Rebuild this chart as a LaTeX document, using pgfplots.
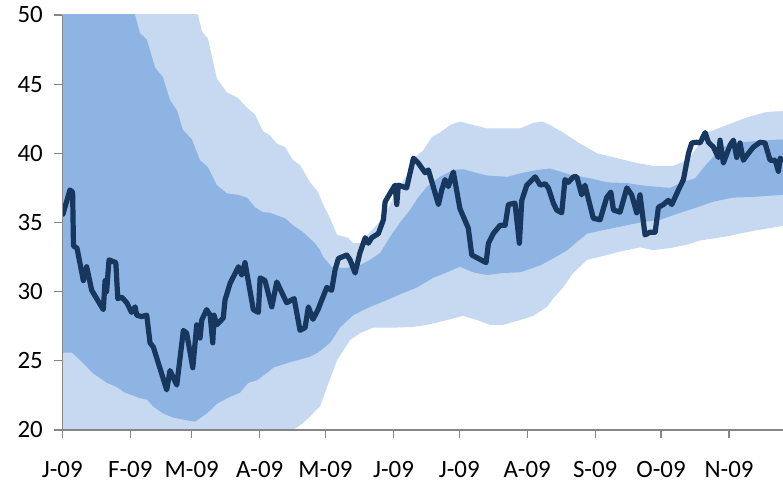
\documentclass[border=0pt]{standalone}
\usepackage{fontspec}
\setmainfont{Carlito}
\usepackage{pgfplots}
\usepackage{pgfplotstable}
\pgfplotsset{compat=1.18}
\usepgfplotslibrary{fillbetween}
\definecolor{lightband}{HTML}{C6D9F1}
\definecolor{midband}{HTML}{8EB4E3}
\definecolor{navy}{HTML}{17375E}
\definecolor{axisgray}{HTML}{868686}

\pgfplotstableread{
d v
0 60
30 53
61.9 50.0
63.7 48.8
66.4 48.3
70.5 45.4
75.1 44.4
80.1 44.0
84.2 43.3
87.9 42.8
91.5 41.6
94.7 41.3
97.9 40.7
101.6 40.45
105.2 39.5
108.4 39.15
113.0 37.9
116.6 37.2
118.9 36.3
122.1 35.3
125.3 34.1
130.3 33.9
132.6 33.5
135.8 33.5
138.1 33.95
142.6 34.7
145.6 35.2
148.7 36.1
150.9 36.8
154.0 37.6
157.8 38.6
160.8 39.7
164.5 40.2
168.6 41.2
172.2 41.5
176.8 42.05
181.3 42.3
187.3 42.05
193.7 41.8
202.8 41.8
208.7 41.8
214.7 42.2
218.8 42.3
222.4 42.05
228.3 41.5
236.1 40.7
243.8 40.0
254.3 39.6
262.1 39.3
269.4 39.1
278.5 39.1
284.9 39.5
289.5 40.45
294.0 41.5
303.1 42.05
312.2 42.6
321.3 43.0
328.6 43.05
}\outerupper

\pgfplotstableread{
d v
0 15
60 16
100 19.3
105.2 20.0
109.8 20.5
117.5 21.7
120.7 23.1
125.3 25.05
131.2 26.5
135.8 27.0
141.7 27.4
150.8 27.4
159.9 27.45
166.3 27.6
175.4 27.95
182.7 28.25
189.1 27.95
195.0 27.6
201.0 27.6
208.7 27.95
214.7 28.25
221.0 28.9
223.8 29.5
228.3 30.3
232.9 31.35
239.3 32.3
248.4 32.65
254.3 32.9
263.5 33.2
269.4 33.0
277.1 33.15
284.9 33.4
290.8 33.7
303.1 34.0
315.1 34.4
328.6 34.75
}\outerlower

\pgfplotstableread{
d v
0 60
30 51
33.2 50.0
35.4 48.7
38.6 48.2
42.3 46.2
45.9 45.5
49.1 43.85
52.3 43.1
55.0 41.7
59.1 41.0
62.8 39.5
66.4 39.0
70.5 37.7
75.1 37.1
80.1 37.0
84.2 36.8
87.9 36.1
91.5 35.75
94.7 35.7
101.6 35.3
105.2 34.8
109.8 34.3
115.2 33.5
117.5 33.0
119.0 32.5
122.8 31.8
128.9 31.7
135.7 31.9
140.3 32.3
144.9 32.8
149.4 33.95
154.0 35.0
158.5 35.9
162.2 36.8
166.3 37.6
172.2 38.3
178.2 38.8
182.7 38.85
187.3 38.65
193.7 38.4
202.8 38.3
210.1 38.6
216.5 38.8
222.4 38.9
232.9 38.4
240.6 38.2
248.4 37.9
257.5 37.85
263.5 37.7
269.4 37.6
277.1 37.5
282.6 37.9
288.5 38.2
293.1 39.1
300.8 40.45
309.9 40.8
320.4 40.95
328.6 41.0
}\innerupper

\pgfplotstableread{
d v
0 25.6
4.4 25.6
9.4 24.85
14.0 24.1
20.4 23.4
24.9 23.1
28.6 22.7
35.4 22.3
38.6 22.2
41.4 21.7
45.9 21.2
50.5 20.9
56.9 20.7
60.5 20.6
66.0 21.2
70.5 21.9
76.5 22.4
81.0 22.7
84.7 23.4
88.8 23.6
94.7 24.3
96.1 24.5
103.8 24.9
113.0 25.3
116.6 25.6
122.1 26.3
126.6 27.4
132.6 28.3
140.3 28.9
148.1 29.4
155.4 29.9
161.7 30.3
169.1 31.0
175.4 31.4
181.3 31.8
187.3 31.4
193.7 31.2
201.0 31.35
208.7 31.4
217.9 31.9
223.8 32.4
230.3 33.0
234.7 33.6
239.3 34.2
246.6 34.45
254.3 34.7
263.5 35.0
272.6 35.2
281.7 35.7
289.5 36.1
296.7 36.5
305.8 36.8
314.9 36.85
328.6 37.0
}\innerlower

\pgfplotstableread{
d v
0.3 35.6
3.5 37.35
4.7 37.2
5.1 33.3
6.7 33.15
9.6 30.8
11.1 31.8
12.6 30.7
13.4 30.1
18.7 28.7
19.5 30.8
20.2 30.0
21.3 32.3
24.4 32.1
25.3 29.5
27.1 29.6
29.4 29.2
31.6 28.5
33.2 28.9
33.9 28.3
36.2 28.2
38.5 28.3
40.0 26.3
41.5 26.0
47.6 22.9
49.1 24.3
52.2 23.25
55.2 27.2
56.7 27.0
59.5 24.5
61.3 27.6
62.8 26.65
63.6 27.95
65.8 28.7
67.4 28.3
68.6 26.3
69.2 28.3
70.4 27.6
73.4 28.1
74.2 29.4
76.5 30.6
80.3 31.8
81.8 31.2
83.3 32.1
87.1 28.7
89.4 28.5
90.2 31.0
92.4 30.8
95.5 28.9
97.8 30.7
102.3 29.2
105.7 29.5
108.4 27.2
110.7 27.4
112.2 28.9
114.3 28.0
116.6 28.7
118.3 29.4
120.6 30.3
122.8 30.1
124.4 31.6
125.9 32.4
127.4 32.5
129.7 32.65
131.2 32.3
133.5 31.35
135.7 32.8
138.1 33.9
139.5 33.5
141.1 33.9
144.1 34.2
146.4 35.2
147.2 36.5
149.4 37.1
151.7 37.7
152.5 36.3
153.2 37.7
157.0 37.5
160.1 39.65
162.3 39.3
165.4 38.6
166.9 38.8
171.5 36.3
173.0 37.35
174.5 38.1
176.0 37.6
178.3 38.65
181.3 36.0
185.1 34.6
186.7 32.65
189.7 32.4
193.2 32.1
194.3 33.5
196.5 34.2
199.6 34.8
201.9 34.8
203.4 36.3
206.4 36.4
208.4 33.5
209.5 36.6
211.8 37.7
215.6 38.3
217.9 37.7
220.2 37.8
221.6 37.5
223.9 36.4
225.4 35.9
227.7 35.7
229.2 38.1
230.7 37.9
233.0 38.3
234.6 38.3
236.8 37.0
238.3 37.7
242.1 35.3
245.2 35.2
248.2 36.8
250.1 37.2
251.3 35.9
254.3 35.75
257.4 37.5
259.6 37.0
261.9 35.7
263.4 37.0
265.7 34.1
268.0 34.3
270.3 34.3
271.8 36.1
274.1 36.3
276.3 36.6
277.9 36.3
280.9 37.35
283.2 38.1
285.5 40.0
287.0 40.75
289.3 40.8
290.8 40.75
293.1 41.5
294.6 40.8
296.9 40.45
299.1 39.7
299.9 40.95
301.4 39.3
304.5 40.6
306.0 40.95
307.5 39.7
309.0 40.75
310.5 39.5
312.8 40.0
315.1 40.45
318.1 40.8
320.4 40.75
322.7 39.5
325.0 39.5
326.5 38.7
327.3 39.65
328.6 39.5
}\series

\begin{document}
\begin{tikzpicture}
\begin{axis}[
  scale only axis,
  width=720.7bp, height=415bp,
  xmin=0, xmax=328.6, ymin=20, ymax=50,
  axis x line=bottom, axis y line=left,
  axis line style={draw=axisgray, line width=1.3bp, -},
  axis on top,
  tick align=outside,
  major tick length=8bp,
  tick style={draw=axisgray, line width=1.3bp},
  xtick={0,31,59,90,120,151,181,212,243,273,304},
  xticklabels={J-09,F-09,M-09,A-09,M-09,J-09,J-09,A-09,S-09,O-09,N-09},
  ytick={20,25,30,35,40,45,50},
  /pgf/number format/assume math mode=true,
  ticklabel style={font=\fontsize{25}{29}\selectfont, text=black},
  yticklabel style={xshift=-8bp},
  xticklabel style={yshift=-20bp},
]
\addplot[name path=OU, draw=none] table[x=d, y=v] {\outerupper};
\addplot[name path=OL, draw=none] table[x=d, y=v] {\outerlower};
\addplot[name path=IU, draw=none] table[x=d, y=v] {\innerupper};
\addplot[name path=IL, draw=none] table[x=d, y=v] {\innerlower};
\addplot[fill=lightband, draw=none] fill between[of=OU and OL];
\addplot[fill=midband, draw=none] fill between[of=IU and IL];
\addplot[navy, line width=5.2bp, line join=round, line cap=round] table[x=d, y=v] {\series};
\end{axis}
\pgfresetboundingbox
\path[use as bounding box] ([xshift=-62.3bp,yshift=-57bp]current axis.south west) rectangle ([yshift=15bp]current axis.north east);
\end{tikzpicture}
\end{document}
